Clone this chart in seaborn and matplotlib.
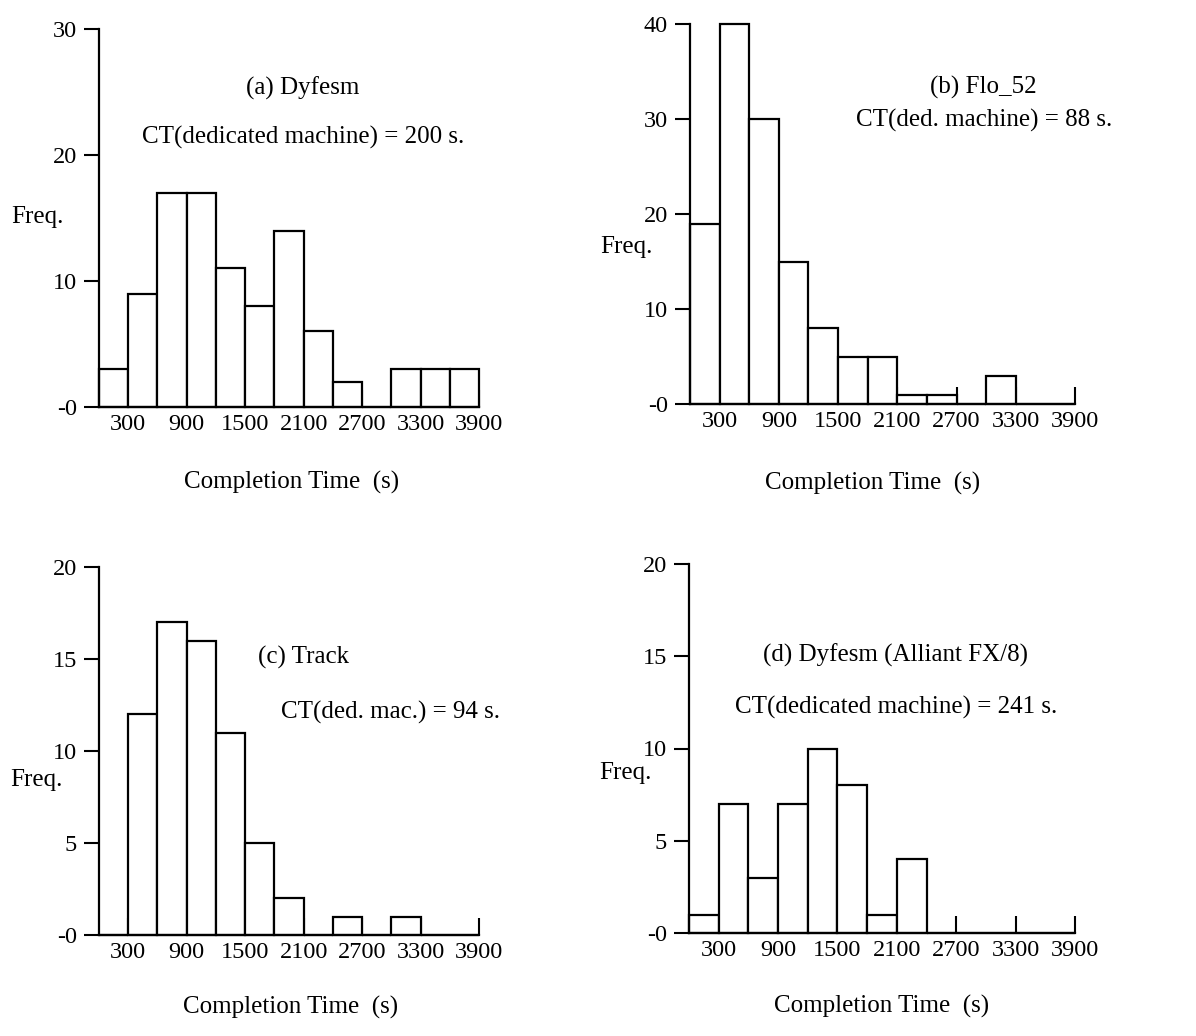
import matplotlib
matplotlib.use("Agg")
import matplotlib.pyplot as plt
import numpy as np
import seaborn as sns

# bins of 300 s from 0 to 3900 s
BIN_EDGES = [0, 300, 600, 900, 1200, 1500, 1800, 2100, 2400, 2700, 3000, 3300, 3600, 3900]
XTICKS = [300, 900, 1500, 2100, 2700, 3300, 3900]

COUNTS_DYFESM = [3, 9, 17, 17, 11, 8, 14, 6, 2, 0, 3, 3, 3]
COUNTS_FLO52 = [19, 40, 30, 15, 8, 5, 5, 1, 1, 0, 3, 0, 0]
COUNTS_TRACK = [0, 12, 17, 16, 11, 5, 2, 0, 1, 0, 1, 0, 0]
COUNTS_ALLIANT = [1, 7, 3, 7, 10, 8, 1, 4, 0, 0, 0, 0, 0]

TITLES = ["(a) Dyfesm", "(b) Flo_52", "(c) Track", "(d) Dyfesm (Alliant FX/8)"]
CT_NOTES = ["CT(dedicated machine) = 200 s.", "CT(ded. machine) = 88 s.",
            "CT(ded. mac.) = 94 s.", "CT(dedicated machine) = 241 s."]
YTICKS = [[0, 10, 20, 30], [0, 10, 20, 30, 40], [0, 5, 10, 15, 20], [0, 5, 10, 15, 20]]

sns.set_style("ticks")
plt.rcParams["font.family"] = ["Liberation Serif", "DejaVu Serif"]
plt.rcParams["font.size"] = 18
for key in ["text.color", "axes.labelcolor", "xtick.color", "ytick.color", "axes.edgecolor"]:
    plt.rcParams[key] = "black"

W, H = 1196, 1036
# axes boxes in pixels: left, right, top, bottom
BOXES = [(99, 479, 29, 407), (690, 1075, 24, 404),
         (99, 479, 567, 935), (689, 1075, 564, 933)]
# text placement in axes fractions
TITLE_POS = [(0.537, 0.844), (0.761, 0.832), (0.537, 0.755), (0.536, 0.753)]
NOTE_POS = [(0.537, 0.714), (0.765, 0.747), (0.766, 0.606), (0.536, 0.61)]
FREQ_POS = [(-0.163, 0.503), (-0.164, 0.413), (-0.166, 0.42), (-0.166, 0.434)]
XLAB_POS = [(0.508, -0.20), (0.473, -0.208), (0.503, -0.196), (0.50, -0.20)]

panels = [COUNTS_DYFESM, COUNTS_FLO52, COUNTS_TRACK, COUNTS_ALLIANT]
edges = np.array(BIN_EDGES)
centers = (edges[:-1] + edges[1:]) / 2

fig = plt.figure(figsize=(W / 100, H / 100), dpi=100)

for i, counts in enumerate(panels):
    l, r, t, b = BOXES[i]
    ax = fig.add_axes([l / W, (H - b) / H, (r - l) / W, (b - t) / H])
    sns.histplot(x=centers, weights=counts, bins=BIN_EDGES, ax=ax,
                 color="white", edgecolor="black", linewidth=1.6, alpha=1)
    for p in ax.patches:
        p.set_clip_on(False)

    ax.set_xlim(0, 3900)
    ax.set_ylim(0, YTICKS[i][-1])
    ax.set_xticks(XTICKS)
    ax.set_xticklabels([str(v) for v in XTICKS])
    ax.set_yticks(YTICKS[i])
    ax.set_yticklabels(["-0"] + [str(v) for v in YTICKS[i][1:]])
    ax.tick_params(axis="x", direction="in", length=12, width=1.5, pad=5, labelsize=17.5)
    ax.tick_params(axis="y", direction="out", length=11, width=1.5, pad=5, labelsize=17.5)
    sns.despine(ax=ax)
    for s in ["left", "bottom"]:
        ax.spines[s].set_linewidth(1.6)

    ax.set_xlabel("Completion Time  (s)", fontsize=18, va="center")
    ax.xaxis.set_label_coords(*XLAB_POS[i])
    ax.set_ylabel("Freq.", rotation=0, fontsize=18, ha="center", va="center")
    ax.yaxis.set_label_coords(*FREQ_POS[i])

    ax.text(*TITLE_POS[i], TITLES[i], transform=ax.transAxes,
            ha="center", va="center", fontsize=18)
    ax.text(*NOTE_POS[i], CT_NOTES[i], transform=ax.transAxes,
            ha="center", va="center", fontsize=18)

fig.savefig("out.png", dpi=100)
